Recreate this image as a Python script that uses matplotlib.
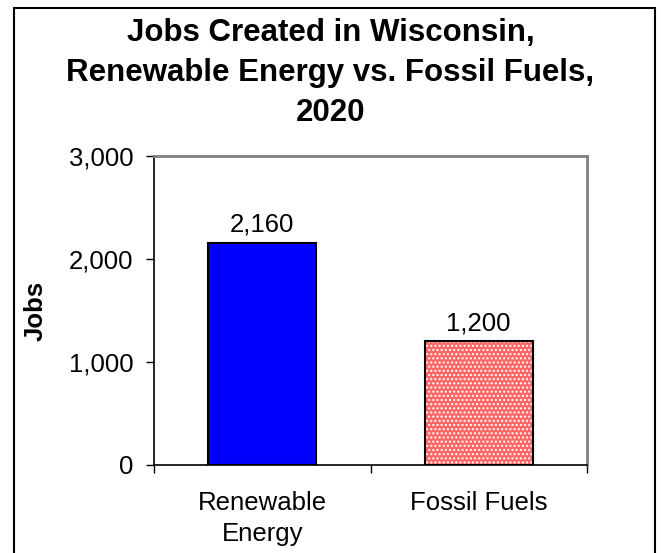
import matplotlib.pyplot as plt
from matplotlib.patches import Rectangle
from matplotlib.ticker import FuncFormatter

plt.rcParams['font.family'] = ['Liberation Sans', 'DejaVu Sans']

categories = ["Renewable\nEnergy", "Fossil Fuels"]
jobs = [2160, 1200]
value_labels = ["2,160", "1,200"]
yticks = [0, 1000, 2000, 3000]

fig = plt.figure(figsize=(6.61, 5.53), dpi=100)
# outer chart frame
fig.patches.append(Rectangle((14 / 661, -0.05), 641 / 661, 1.05 - 8 / 553,
                             transform=fig.transFigure, fill=False,
                             edgecolor='black', linewidth=1.5))

ax = fig.add_axes([154 / 661, 88 / 553, 433 / 661, 309 / 553])

x = [0.5, 1.5]
# fossil fuel bar gets a dotted pattern, drawn as a hatched layer
ax.bar(x[0], jobs[0], width=0.5, color='#0000ff', edgecolor='black', linewidth=1.5, zorder=3)
ax.bar(x[1], jobs[1], width=0.5, color='#ff6666', edgecolor='white', hatch='....',
       linewidth=0, zorder=3)
ax.bar(x[1], jobs[1], width=0.5, fill=False, edgecolor='black', linewidth=1.5, zorder=4)

for xi, v, lab in zip(x, jobs, value_labels):
    ax.text(xi, v + 110, lab, ha='center', va='baseline', fontsize=18.5)

ax.set_xlim(0, 2)
ax.set_ylim(0, 3000)
ax.set_yticks(yticks)
ax.yaxis.set_major_formatter(FuncFormatter(lambda v, p: f"{int(v):,}"))
ax.tick_params(axis='y', labelsize=18.5, length=6, width=1, direction='out', pad=9)

ax.set_xticks([0, 1, 2])
ax.set_xticklabels([])
ax.set_xticks(x, minor=True)
ax.set_xticklabels(categories, minor=True, fontsize=18.5, linespacing=1.35)
ax.tick_params(axis='x', which='major', length=6, width=1, direction='out')
ax.tick_params(axis='x', which='minor', length=0, pad=19)

for s in ['top', 'right']:
    ax.spines[s].set_color('#808080')
    ax.spines[s].set_linewidth(2)
for s in ['left', 'bottom']:
    ax.spines[s].set_color('black')
    ax.spines[s].set_linewidth(1.2)

ax.set_ylabel("Jobs", fontsize=18.5, fontweight='bold')
ax.yaxis.set_label_coords(-(154 - 48) / 433, 0.5)

fig.text(0.5, 1 - 41 / 553, "Jobs Created in Wisconsin,", ha='center', va='baseline',
         fontsize=22.5, fontweight='bold')
fig.text(0.5, 1 - 81 / 553, "Renewable Energy vs. Fossil Fuels,", ha='center', va='baseline',
         fontsize=22.5, fontweight='bold')
fig.text(0.5, 1 - 121 / 553, "2020", ha='center', va='baseline',
         fontsize=22.5, fontweight='bold')

fig.savefig("out.png", dpi=100)
